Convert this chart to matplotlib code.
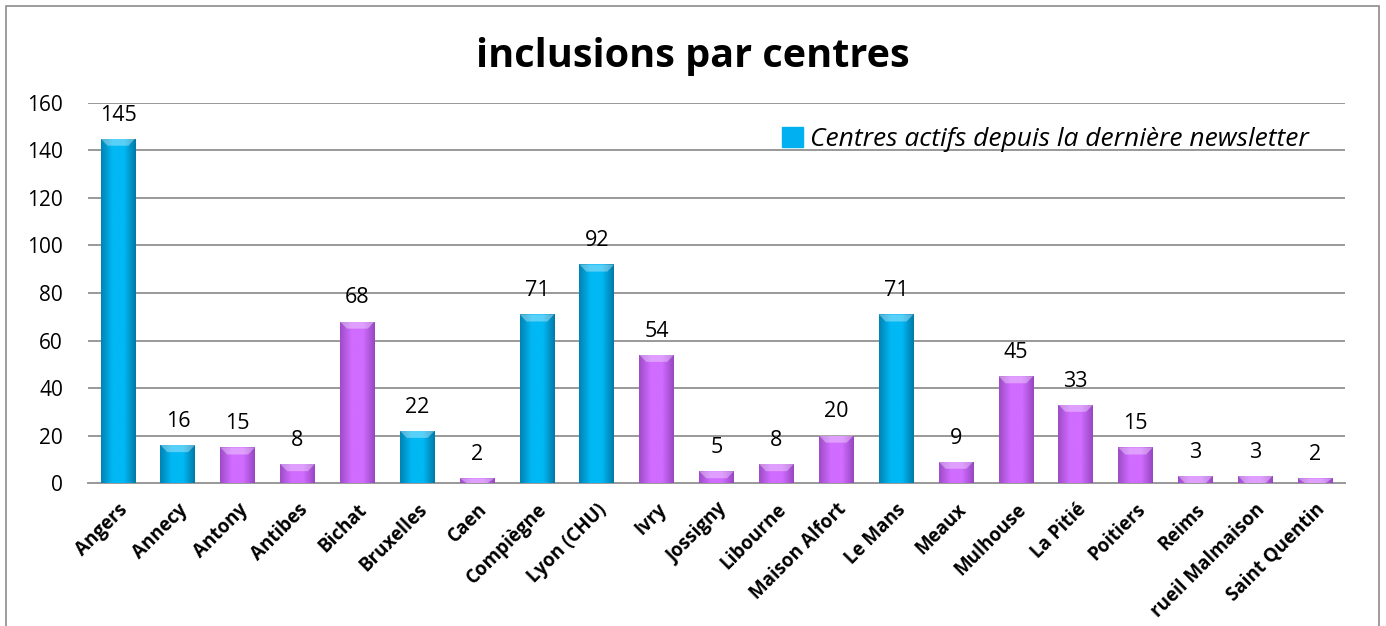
import matplotlib.pyplot as plt
import numpy as np
from matplotlib.colors import LinearSegmentedColormap

centres = ['Angers', 'Annecy', 'Antony', 'Antibes', 'Bichat', 'Bruxelles', 'Caen',
           'Compiègne', 'Lyon (CHU)', 'Ivry', 'Jossigny', 'Libourne', 'Maison Alfort',
           'Le Mans', 'Meaux', 'Mulhouse', 'La Pitié', 'Poitiers', 'Reims',
           'rueil Malmaison', 'Saint Quentin']
inclusions = [145, 16, 15, 8, 68, 22, 2, 71, 92, 54, 5, 8, 20, 71, 9, 45, 33, 15, 3, 3, 2]
actifs = ['Angers', 'Annecy', 'Bruxelles', 'Compiègne', 'Lyon (CHU)', 'Le Mans']
legend_label = 'Centres actifs depuis la dernière newsletter'

blue = '#00B0F0'
purple = '#CC66FF'
blue_cmap = LinearSegmentedColormap.from_list('b', ['#0083B4', '#00B8F4', '#00B8F4', '#007AA8'])
purple_cmap = LinearSegmentedColormap.from_list('p', ['#9E4CC8', '#D06CFF', '#D06CFF', '#9846C2'])

plt.rcParams['font.family'] = ['Open Sans', 'DejaVu Sans']

fig = plt.figure(figsize=(13.86, 6.26), dpi=100, facecolor='white')
# outer frame
fig.patches.append(plt.Rectangle((0.004, -0.05), 0.991, 1.04, transform=fig.transFigure,
                                 fill=False, edgecolor='#8c8c8c', linewidth=1.2))
ax = fig.add_axes([0.0635, 0.2284, 0.907, 0.6071])

x = np.arange(len(centres))
colors = [blue if c in actifs else purple for c in centres]
bars = ax.bar(x, inclusions, width=0.58, color=colors, edgecolor='none', zorder=2)

# shading across each bar for a rounded look
grad = np.linspace(0, 1, 64).reshape(1, -1)
for b, c in zip(bars, centres):
    cmap = blue_cmap if c in actifs else purple_cmap
    bx, by = b.get_x(), b.get_y()
    w, h = b.get_width(), b.get_height()
    im = ax.imshow(grad, cmap=cmap, extent=(bx, bx + w, by, by + h), aspect='auto', zorder=3)
    im.set_clip_path(b)
    # light top bevel
    top = min(h, 3.0)
    ax.fill([bx, bx + w, bx + w * 0.8, bx + w * 0.2], [h, h, h - top, h - top],
            color='white', alpha=0.35, lw=0, zorder=4)
    ax.text(x[centres.index(c)], h + 5.5, str(int(h)), ha='center', va='bottom',
            fontsize=15.5, color='black', zorder=5)

ax.set_xlim(-0.5, len(centres) - 0.5)
ax.set_ylim(0, 160)
ax.set_yticks(range(0, 161, 20))
ax.yaxis.grid(True, color='#999999', linewidth=1.4, zorder=0)
ax.set_axisbelow(True)
for s in ['top', 'right', 'left']:
    ax.spines[s].set_visible(False)
ax.spines['bottom'].set_color('#999999')
ax.spines['bottom'].set_linewidth(1.4)
ax.tick_params(axis='y', length=0, labelsize=15, pad=18)
ax.tick_params(axis='x', length=0, pad=12)
ax.set_xticks(x)
ax.set_xticklabels(centres, rotation=45, ha='right', rotation_mode='anchor',
                   fontsize=13.5, fontweight='bold')

handle = plt.Rectangle((0, 0), 1, 1, color=blue)
ax.legend([handle], [legend_label], loc='upper right', bbox_to_anchor=(0.99, 1.0),
          frameon=False, prop={'style': 'italic', 'size': 19},
          handlelength=0.8, handleheight=0.8, handletextpad=0.25)

fig.text(0.5, 0.91, 'inclusions par centres', ha='center', va='center',
         fontsize=28.5, fontweight='bold')

fig.savefig('out.png', dpi=100)
